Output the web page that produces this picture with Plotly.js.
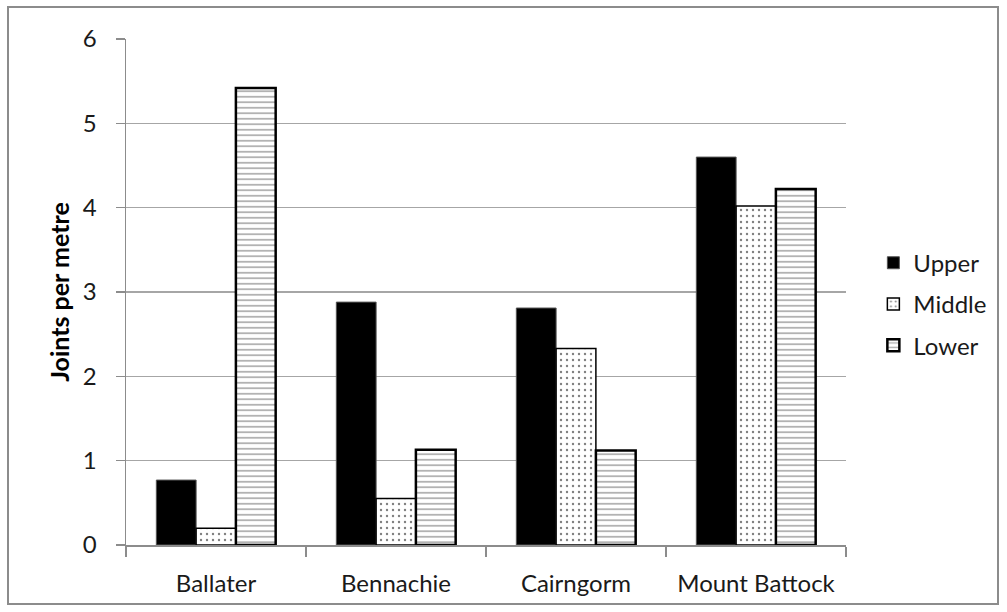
<!DOCTYPE html>
<html>
<head>
<meta charset="utf-8">
<script src="https://cdn.plot.ly/plotly-3.0.1.min.js"></script>
<style>html,body{margin:0;padding:0;background:#fff;}#chart{width:1007px;height:612px;}</style>
</head>
<body>
<div id="chart"></div>
<script>
const categories = ["Ballater", "Bennachie", "Cairngorm", "Mount Battock"];
const upper  = [0.77, 2.88, 2.81, 4.60];
const middle = [0.20, 0.55, 2.33, 4.02];
const lower  = [5.42, 1.13, 1.12, 4.22];
const seriesNames = ["Upper", "Middle", "Lower"];
const yTitle = "Joints per metre";

const FONT = "Lato, 'Liberation Sans', sans-serif";
const TXT = "#1a1a1a";

const traces = [
  {
    type: "bar", name: seriesNames[0], x: categories, y: upper, legendgroup: "a",
    marker: {color: "#000000", line: {color: "#555555", width: 1}}
  },
  {
    type: "bar", name: seriesNames[1], x: categories, y: middle, legendgroup: "b",
    marker: {color: "#ffffff", line: {color: "#000000", width: 1.5},
      pattern: {shape: ".", fgcolor: "#000000", bgcolor: "#ffffff", size: 6, solidity: 0.12, fillmode: "overlay"}}
  },
  {
    type: "bar", name: seriesNames[2], x: categories, y: lower, legendgroup: "c",
    marker: {color: "#ffffff", line: {color: "#000000", width: 2.5},
      pattern: {shape: "-", fgcolor: "#555555", bgcolor: "#ffffff", size: 5.5, solidity: 0.3, fillmode: "overlay"}}
  }
];

const layout = {
  width: 1007, height: 612,
  margin: {l: 126, r: 161, t: 39, b: 67, pad: 0},
  paper_bgcolor: "#ffffff", plot_bgcolor: "#ffffff",
  font: {family: FONT, size: 24, color: TXT},
  barmode: "group", bargap: 0.337, bargroupgap: 0,
  showlegend: true,
  legend: {x: 1.038, xanchor: "left", y: 0.476, yanchor: "middle",
    font: {family: FONT, size: 24, color: TXT}, tracegroupgap: 7,
    itemwidth: 30, bgcolor: "rgba(0,0,0,0)"},
  xaxis: {
    type: "category", tickson: "boundaries", ticks: "outside", ticklen: 10,
    tickcolor: "#8c8c8c", tickwidth: 1.5,
    showline: true, linecolor: "#8c8c8c", linewidth: 1.5,
    showgrid: false, zeroline: false, ticklabelstandoff: 17,
    tickfont: {family: FONT, size: 24, color: TXT}, fixedrange: true
  },
  yaxis: {
    range: [0, 6], dtick: 1, tick0: 0, ticks: "outside", ticklen: 9,
    tickcolor: "#8c8c8c", tickwidth: 1.5,
    showline: true, linecolor: "#8c8c8c", linewidth: 1.5,
    showgrid: true, gridcolor: "#a6a6a6", gridwidth: 1.5, zeroline: false,
    ticklabelstandoff: 14,
    tickfont: {family: FONT, size: 24, color: TXT},
    title: {text: "<b>" + yTitle + "</b>", font: {family: FONT, size: 25, color: "#000000"}, standoff: 6},
    fixedrange: true
  },
  shapes: [{
    type: "rect", xref: "paper", yref: "paper",
    x0: (8 - 126) / 720, x1: (998 - 126) / 720,
    y0: (545 - 604) / 506, y1: (545 - 7) / 506,
    line: {color: "#8c8c8c", width: 2}, fillcolor: "rgba(0,0,0,0)", layer: "below"
  }]
};

Plotly.newPlot("chart", traces, layout, {displayModeBar: false, staticPlot: true});
</script>
</body>
</html>
